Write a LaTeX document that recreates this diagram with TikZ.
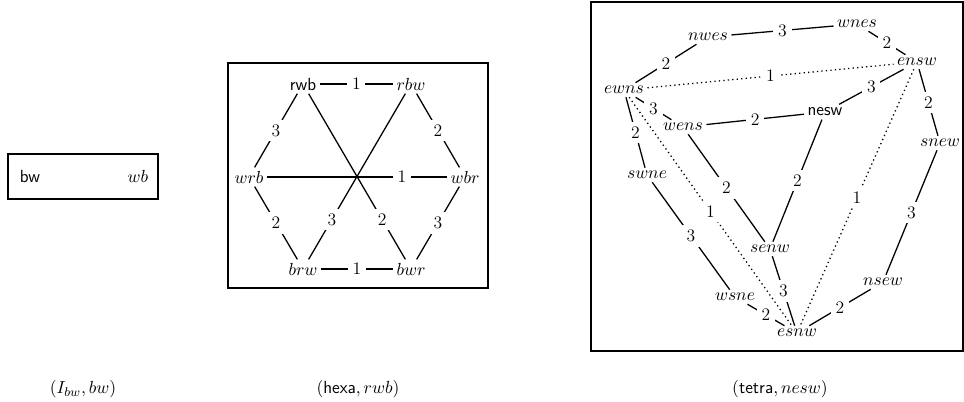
\documentclass[tikz,border=0pt]{standalone}
\begin{document}
\begin{tikzpicture}[x=0.625pt,y=-0.625pt,
  every node/.style={font=\fontsize{11}{13}\selectfont},
  vtx/.style={inner sep=2pt},
  lbl/.style={fill=white,inner sep=3pt},
  frame/.style={line width=0.9pt},
  edge/.style={line width=0.8pt},
  dotedge/.style={line width=0.8pt,dotted}]
\useasboundingbox (0,0) rectangle (964,402);

% ---- first frame: I_bw ----
\draw[frame] (8,154) rectangle (158,199);
\node[vtx] (bw) at (30,176.5) {\textsf{bw}};
\node[vtx] (wb) at (138,176.5) {$wb$};
\node (cap1) at (83,389) {$(I_{bw}, bw)$};

% ---- second frame: hexagon ----
\draw[frame] (228,63) rectangle (488,288);
\node[vtx] (rwb) at (303,84) {\textsf{rwb}};
\node[vtx] (rbw) at (411,84) {$rbw$};
\node[vtx] (wrb) at (249,177) {$wrb$};
\node[vtx] (wbr) at (465,177) {$wbr$};
\node[vtx] (brw) at (303,269) {$brw$};
\node[vtx] (bwr) at (411,269) {$bwr$};
\draw[edge] (rwb) -- node[lbl] {1} (rbw);
\draw[edge] (rwb) -- node[lbl] {3} (wrb);
\draw[edge] (rbw) -- node[lbl] {2} (wbr);
\draw[edge] (wrb) -- node[lbl] {2} (brw);
\draw[edge] (wbr) -- node[lbl] {3} (bwr);
\draw[edge] (brw) -- node[lbl] {1} (bwr);
\draw[edge] (wrb) -- node[lbl,pos=0.75] {1} (wbr);
\draw[edge] (rwb) -- node[lbl,pos=0.76] {2} (bwr);
\draw[edge] (rbw) -- node[lbl,pos=0.76] {3} (brw);
\node (cap2) at (358,389) {$(\textsf{hexa}, rwb)$};

% ---- third frame: tetrahedron ----
\draw[frame] (591,2) rectangle (963,351);
\node[vtx] (nwes) at (708,37) {$nwes$};
\node[vtx] (wnes) at (857,24) {$wnes$};
\node[vtx] (ensw) at (917,62) {$ensw$};
\node[vtx] (ewns) at (624,90) {$ewns$};
\node[vtx] (wens) at (683,127) {$wens$};
\node[vtx] (nesw) at (825,112) {\textsf{nesw}};
\node[vtx] (snew) at (940,143) {$snew$};
\node[vtx] (swne) at (647,175) {$swne$};
\node[vtx] (senw) at (770,249) {$senw$};
\node[vtx] (wsne) at (735,297) {$wsne$};
\node[vtx] (esnw) at (797,333) {$esnw$};
\node[vtx] (nsew) at (883,282) {$nsew$};

\draw[edge] (nwes) -- node[lbl] {3} (wnes);
\draw[edge] (wnes) -- node[lbl] {2} (ensw);
\draw[edge] (nwes) -- node[lbl] {2} (ewns);
\draw[edge] (ensw) -- node[lbl] {3} (nesw);
\draw[edge] (ewns) -- node[lbl] {3} (wens);
\draw[edge] (wens) -- node[lbl] {2} (nesw);
\draw[edge] (ensw) -- node[lbl] {2} (snew);
\draw[edge] (ewns) -- node[lbl] {2} (swne);
\draw[edge] (wens) -- node[lbl] {2} (senw);
\draw[edge] (nesw) -- node[lbl] {2} (senw);
\draw[edge] (snew) -- node[lbl] {3} (nsew);
\draw[edge] (swne) -- node[lbl] {3} (wsne);
\draw[edge] (senw) -- node[lbl] {3} (esnw);
\draw[edge] (wsne) -- node[lbl] {2} (esnw);
\draw[edge] (nsew) -- node[lbl] {2} (esnw);
\draw[dotedge] (ewns) -- node[lbl] {1} (ensw);
\draw[dotedge] (ewns) -- node[lbl] {1} (esnw);
\draw[dotedge] (ensw) -- node[lbl] {1} (esnw);
\node (cap3) at (780,389) {$(\textsf{tetra}, nesw)$};
\end{tikzpicture}
\end{document}
